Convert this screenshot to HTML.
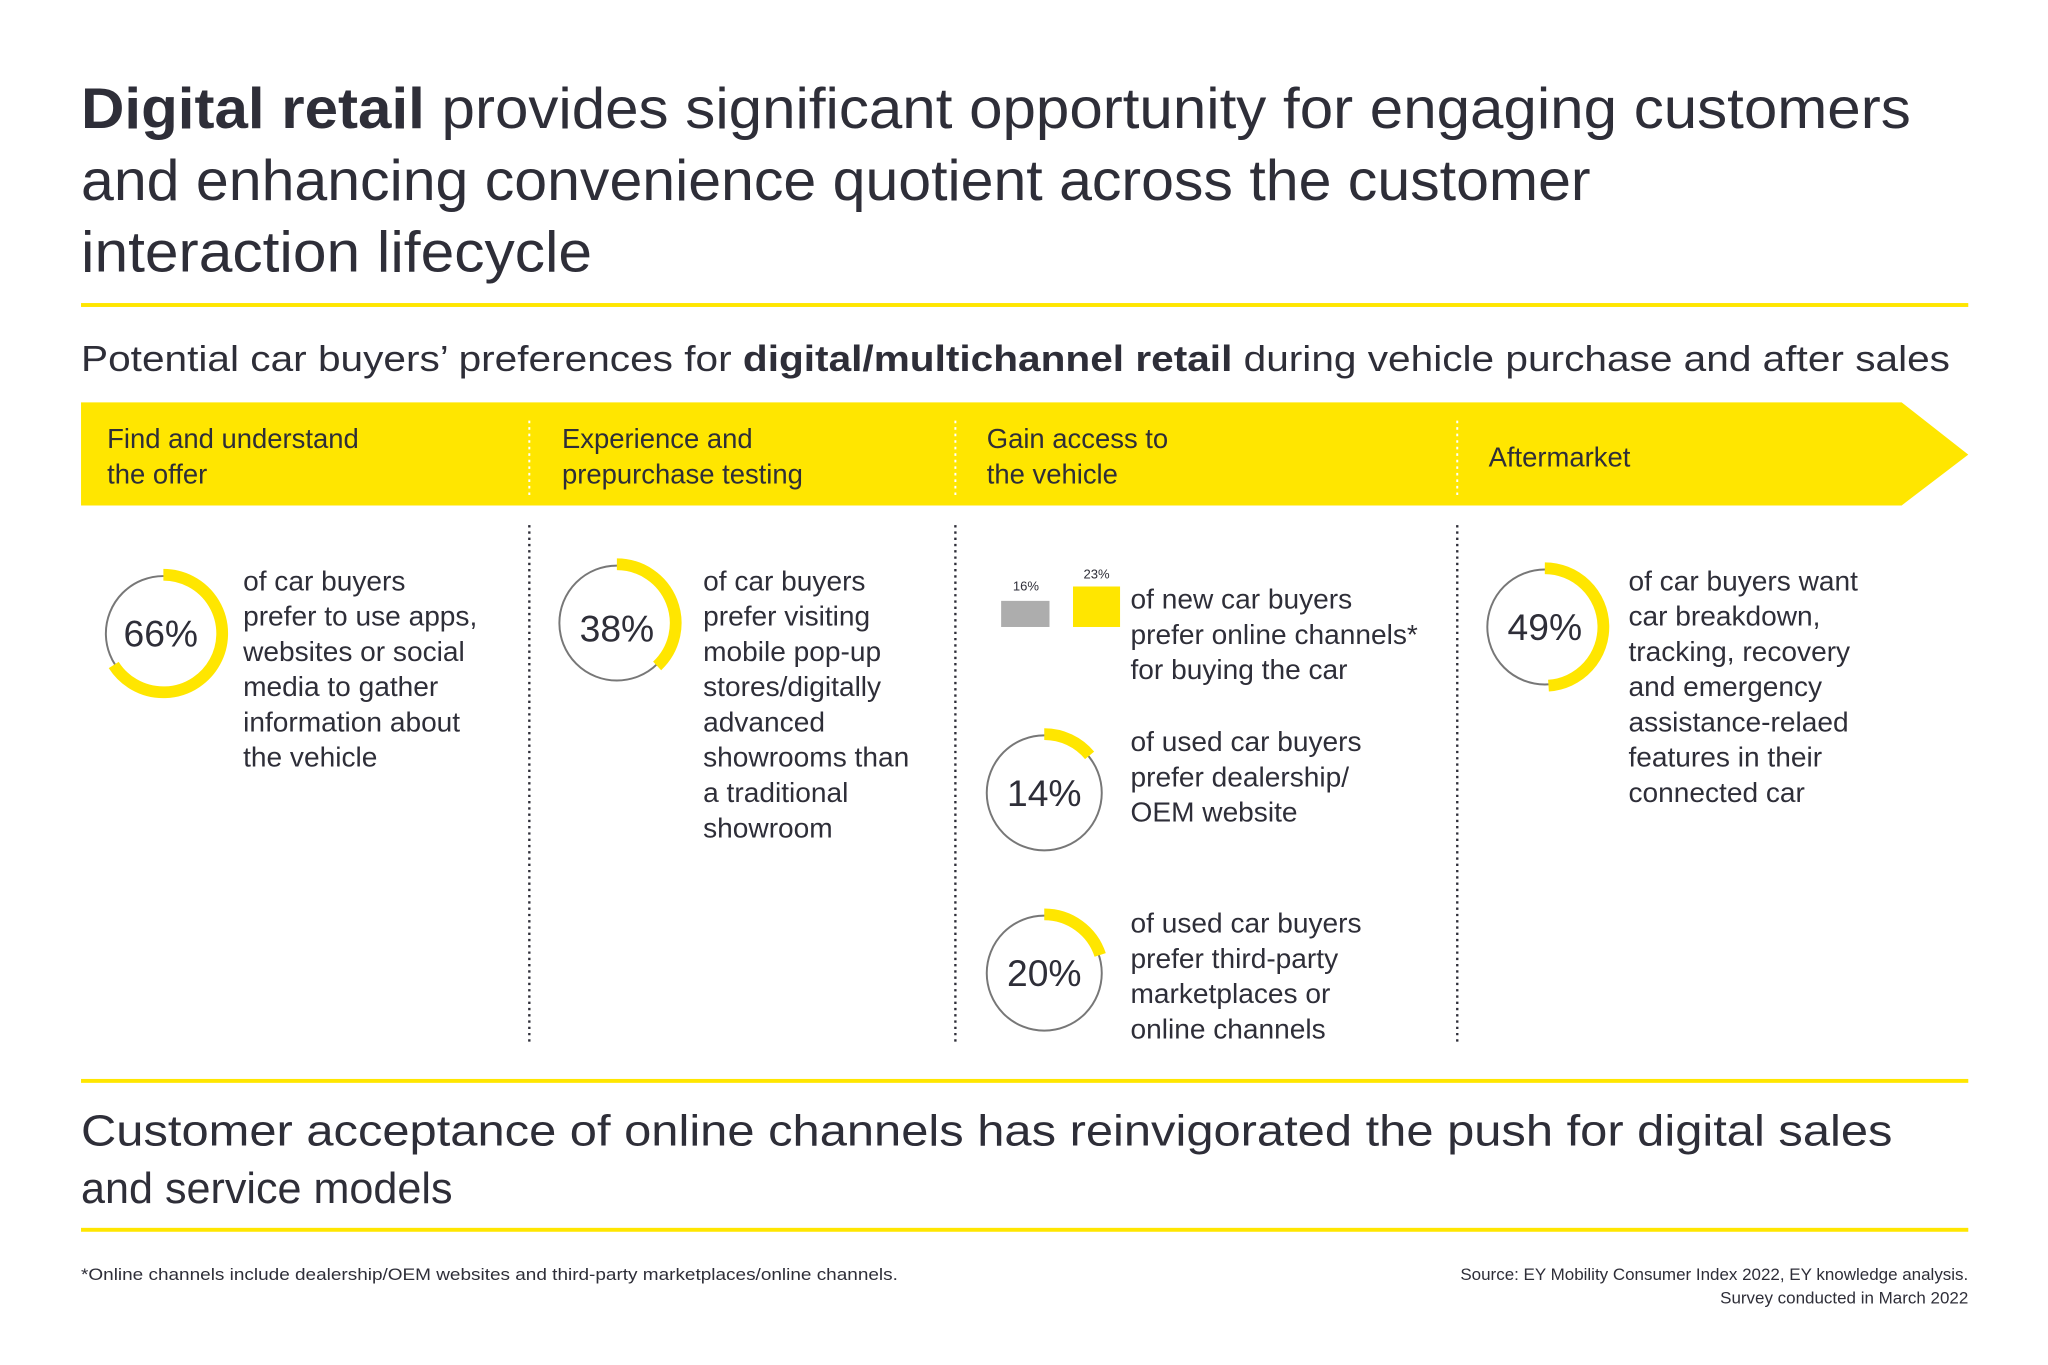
<!DOCTYPE html>
<html><head><meta charset="utf-8"><style>
html,body{margin:0;padding:0;background:#fff;overflow:hidden;}
svg{display:block;}
text{font-family:"Liberation Sans",sans-serif;fill:#2e2e38;}
</style></head><body>
<svg width="2048" height="1365" viewBox="0 0 1567 1045" preserveAspectRatio="none" xmlns="http://www.w3.org/2000/svg">
<rect width="1567" height="1045" fill="#fff"/>
<g font-size="44">
<text x="62" y="98" textLength="1400" lengthAdjust="spacingAndGlyphs"><tspan font-weight="bold">Digital retail</tspan> provides significant opportunity for engaging customers</text>
<text x="62" y="153" textLength="1155" lengthAdjust="spacingAndGlyphs">and enhancing convenience quotient across the customer</text>
<text x="62" y="208" textLength="391" lengthAdjust="spacingAndGlyphs">interaction lifecycle</text>
</g>
<rect x="62" y="232" width="1444" height="3" fill="#ffe600"/>
<text x="62" y="284" font-size="28" textLength="1430" lengthAdjust="spacingAndGlyphs">Potential car buyers’ preferences for <tspan font-weight="bold">digital/multichannel retail</tspan> during vehicle purchase and after sales</text>
<polygon points="62,308 1455,308 1506,348 1455,387 62,387" fill="#ffe600"/>
<g stroke="#fff" stroke-width="1.5" stroke-dasharray="2,3">
<line x1="405" y1="322" x2="405" y2="380"/><line x1="731" y1="322" x2="731" y2="380"/><line x1="1115" y1="322" x2="1115" y2="380"/>
</g>
<g font-size="21">
<text x="82" y="343">Find and understand</text><text x="82" y="370">the offer</text>
<text x="430" y="343">Experience and</text><text x="430" y="370">prepurchase testing</text>
<text x="755" y="343">Gain access to</text><text x="755" y="370">the vehicle</text>
<text x="1139" y="357">Aftermarket</text>
</g>
<g stroke="#2e2e38" stroke-width="1.8" stroke-dasharray="1.8,3">
<line x1="405" y1="402" x2="405" y2="800"/><line x1="731" y1="402" x2="731" y2="800"/><line x1="1115" y1="402" x2="1115" y2="800"/>
</g>
<g fill="none" stroke="#777" stroke-width="1.5">
<circle cx="125" cy="485" r="44"/><circle cx="472" cy="477" r="44"/><circle cx="799" cy="607" r="44"/><circle cx="799" cy="745" r="44"/><circle cx="1182" cy="480" r="44"/>
</g>
<g fill="none" stroke="#ffe600" stroke-width="9">
<path d="M125,440 A45,45 0 1 1 87.0,509.1"/>
<path d="M472,432 A45,45 0 0 1 502.8,509.8"/>
<path d="M799,562 A45,45 0 0 1 833.7,578.3"/>
<path d="M799,700 A45,45 0 0 1 841.8,731.1"/>
<path d="M1182,435 A45,45 0 0 1 1184.8,524.9"/>
</g>
<g font-size="28.5" text-anchor="middle">
<text x="123" y="495">66%</text><text x="472" y="491">38%</text><text x="799" y="617">14%</text><text x="799" y="755">20%</text><text x="1182" y="490">49%</text>
</g>
<g font-size="21.5">
<text x="186" y="452">of car buyers</text><text x="186" y="479">prefer to use apps,</text><text x="186" y="506">websites or social</text><text x="186" y="533">media to gather</text><text x="186" y="560">information about</text><text x="186" y="587">the vehicle</text>
<text x="538" y="452">of car buyers</text><text x="538" y="479">prefer visiting</text><text x="538" y="506">mobile pop-up</text><text x="538" y="533">stores/digitally</text><text x="538" y="560">advanced</text><text x="538" y="587">showrooms than</text><text x="538" y="614">a traditional</text><text x="538" y="641">showroom</text>
<text x="865" y="466">of new car buyers</text><text x="865" y="493">prefer online channels*</text><text x="865" y="520">for buying the car</text>
<text x="865" y="575">of used car buyers</text><text x="865" y="602">prefer dealership/</text><text x="865" y="629">OEM website</text>
<text x="865" y="714">of used car buyers</text><text x="865" y="741">prefer third-party</text><text x="865" y="768">marketplaces or</text><text x="865" y="795">online channels</text>
<text x="1246" y="452">of car buyers want</text><text x="1246" y="479">car breakdown,</text><text x="1246" y="506">tracking, recovery</text><text x="1246" y="533">and emergency</text><text x="1246" y="560">assistance-relaed</text><text x="1246" y="587">features in their</text><text x="1246" y="614">connected car</text>
</g>
<rect x="766" y="460" width="37" height="20" fill="#adadad"/>
<rect x="821" y="449" width="36" height="31" fill="#ffe600"/>
<text x="785" y="452" font-size="10" text-anchor="middle">16%</text>
<text x="839" y="443" font-size="10" text-anchor="middle">23%</text>
<rect x="62" y="826" width="1444" height="3" fill="#ffe600"/>
<g font-size="33">
<text x="62" y="877" textLength="1386" lengthAdjust="spacingAndGlyphs">Customer acceptance of online channels has reinvigorated the push for digital sales</text>
<text x="62" y="921">and service models</text>
</g>
<rect x="62" y="940" width="1444" height="3" fill="#ffe600"/>
<text x="62" y="980" font-size="13" textLength="625" lengthAdjust="spacingAndGlyphs">*Online channels include dealership/OEM websites and third-party marketplaces/online channels.</text>
<g font-size="13" text-anchor="end">
<text x="1506" y="980">Source: EY Mobility Consumer Index 2022, EY knowledge analysis.</text>
<text x="1506" y="998">Survey conducted in March 2022</text>
</g>
</svg>
</body></html>
